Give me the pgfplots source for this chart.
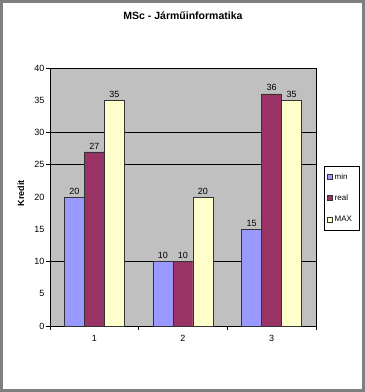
\documentclass[border=0pt]{standalone}
\usepackage{pgfplots}
\pgfplotsset{compat=1.18}
\usepackage{fontspec}
\setmainfont{Liberation Sans}
\definecolor{cmin}{HTML}{9999FF}
\definecolor{creal}{HTML}{993366}
\definecolor{cmax}{HTML}{FFFFCC}
\definecolor{plotbg}{HTML}{C0C0C0}
\begin{document}
\begin{tikzpicture}[x=1pt,y=1pt]
\fill[white] (-50,-66) rectangle (315,326);
\draw[black!50, line width=3pt] (-48.5,-64.5) rectangle (313.5,324.5);
\useasboundingbox (-50,-66) rectangle (315,326);
\begin{axis}[
  at={(0,0)}, anchor=south west,
  scale only axis, width=266pt, height=258pt,
  ybar=0pt, bar width=20pt,
  xmin=0.5, xmax=3.5, ymin=0, ymax=40,
  xtick={1,2,3}, ytick={0,5,...,40},
  major tick length=0pt, tick pos=left,
  extra x ticks={0.5,1.5,2.5,3.5}, extra x tick labels={},
  extra x tick style={major tick length=4pt, tick align=outside},
  extra y ticks={0,10,25,30,40}, extra y tick labels={},
  extra y tick style={grid=major, major grid style={black, line width=0.6pt}, major tick length=4pt, tick align=outside},
  tick style={black, line width=0.6pt},
  axis background/.style={fill=plotbg},
  axis line style={black, line width=0.6pt},
  /pgf/number format/assume math mode=true,
  ticklabel style={font=\fontsize{9}{10}\selectfont},
  yticklabel style={xshift=-2pt},
  xticklabel style={yshift=-6pt},
  title={MSc - Járműinformatika},
  title style={font=\bfseries\fontsize{10.5}{12}\selectfont, at={(0.5,1)}, anchor=center, yshift=46pt},
  ylabel={Kredit},
  ylabel style={font=\bfseries\fontsize{9}{10}\selectfont, at={(axis description cs:-0.109,0.515)}, anchor=center},
  nodes near coords,
  nodes near coords style={font=\fontsize{9}{10}\selectfont, text=black, inner sep=2.5pt},
  legend style={at={(axis description cs:1.030,0.620)}, anchor=north west, draw=black, line width=0.5pt,
    font=\fontsize{8}{9}\selectfont, row sep=10pt, inner xsep=3pt, inner ysep=5pt, cells={anchor=west}},
  legend image code/.code={\draw[#1,line width=0.5pt] (0pt,-2.5pt) rectangle (5pt,2.5pt);},
]
\addplot[fill=cmin, draw=black!80, line width=0.6pt] coordinates {(1,20) (2,10) (3,15)};
\addplot[fill=creal, draw=black!80, line width=0.6pt] coordinates {(1,27) (2,10) (3,36)};
\addplot[fill=cmax, draw=black!80, line width=0.6pt] coordinates {(1,35) (2,20) (3,35)};
\addlegendentry{\makebox[20pt][l]{min}}
\addlegendentry{\makebox[20pt][l]{real}}
\addlegendentry{\makebox[20pt][l]{MAX}}
\end{axis}
\end{tikzpicture}
\end{document}
